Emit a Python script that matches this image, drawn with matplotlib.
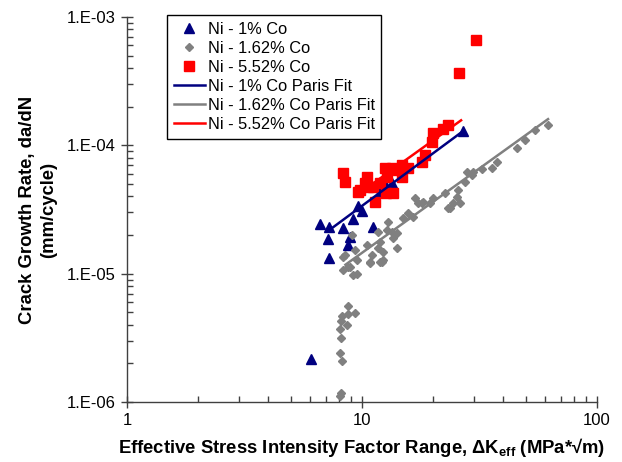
import matplotlib
matplotlib.use("Agg")
import matplotlib.pyplot as plt
import matplotlib.ticker as mticker
import numpy as np

plt.rcParams['font.family'] = ['Liberation Sans', 'DejaVu Sans']
plt.rcParams['mathtext.fontset'] = 'custom'
plt.rcParams['mathtext.rm'] = 'Liberation Sans'
plt.rcParams['mathtext.bf'] = 'Liberation Sans:bold'

# ---- data ----
co1_dk = [6.07, 6.63, 7.24, 7.17, 7.24, 8.30, 9.16, 9.62, 10.0, 11.14, 8.89, 8.72,
          11.93, 12.53, 13.42, 26.9]
co1_rate = [2.16e-6, 2.44e-5, 2.31e-5, 1.86e-5, 1.32e-5, 2.27e-5, 2.67e-5, 3.37e-5,
            3.07e-5, 2.31e-5, 1.93e-5, 1.67e-5, 4.33e-5, 5.0e-5, 5.09e-5, 1.29e-4]

co162_dk = [8.72, 9.34, 8.72, 8.22, 8.14, 8.64, 8.06, 8.14, 8.06, 8.22, 8.06, 8.14,
            9.07, 8.47, 8.30, 8.72, 9.34, 9.52, 9.16, 10.5, 10.81, 11.03, 11.93, 11.70,
            12.29, 11.70, 12.90, 13.42, 14.09, 13.55, 14.95, 15.70, 16.81, 17.31, 18.18,
            20.05, 22.56, 23.68, 24.39, 25.62, 27.44, 12.78, 14.09, 16.48, 18.0, 19.47,
            23.23, 25.37, 26.12, 29.38, 8.30, 8.89, 9.52, 10.81, 12.17, 12.29, 11.93,
            27.99, 29.68, 32.4, 35.7, 37.5, 45.7, 49.4, 54.5, 61.9]
co162_rate = [5.6e-6, 4.93e-6, 4.85e-6, 4.68e-6, 4.28e-6, 3.98e-6, 3.7e-6, 3.15e-6,
              2.41e-6, 2.09e-6, 1.12e-6, 1.17e-6,
              2.0e-5, 1.40e-5, 1.07e-5, 1.13e-5, 1.53e-5, 1.28e-5, 9.8e-6, 1.67e-5,
              1.23e-5, 1.40e-5, 1.23e-5, 1.58e-5, 1.28e-5, 2.11e-5, 2.53e-5, 2.11e-5,
              1.58e-5, 1.89e-5, 2.72e-5, 2.97e-5, 3.89e-5, 3.55e-5, 3.62e-5, 3.89e-5,
              4.25e-5, 3.25e-5, 3.55e-5, 4.48e-5, 5.18e-5, 2.19e-5, 2.07e-5, 2.76e-5,
              3.55e-5, 3.55e-5, 3.25e-5, 3.96e-5, 3.55e-5, 5.87e-5, 1.35e-5, 1.13e-5,
              1.0e-5, 1.21e-5, 1.23e-5, 1.47e-5, 1.76e-5,
              6.2e-5, 6.2e-5, 6.5e-5, 6.66e-5, 7.4e-5, 9.5e-5, 1.10e-4, 1.32e-4, 1.44e-4]

co552_dk = [30.55, 25.87, 23.23, 22.12, 20.05, 19.86, 18.54, 18.0, 15.70, 14.80, 14.23,
            14.80, 13.42, 12.53, 12.78, 13.55, 12.65, 11.36, 11.93, 10.5, 10.3, 10.6,
            9.8, 8.30, 8.47, 11.14, 9.6]
co552_rate = [6.62e-4, 3.66e-4, 1.44e-4, 1.34e-4, 1.25e-4, 1.06e-4, 8.4e-5, 7.4e-5,
              6.66e-5, 7.0e-5, 6.4e-5, 5.67e-5, 6.66e-5, 6.66e-5, 5.67e-5, 4.25e-5,
              4.25e-5, 3.62e-5, 5.09e-5, 5.67e-5, 5.09e-5, 4.73e-5, 4.48e-5, 6.08e-5,
              5.18e-5, 4.73e-5, 4.33e-5]

# Paris fits: da/dN = C * dK^m, over the range [dk_min, dk_max]
fit_co1 = dict(C=1.49e-6, m=1.355, dk=(7.2, 26.9))
fit_co162 = dict(C=7.02e-7, m=1.316, dk=(8.5, 61.9))
fit_co552 = dict(C=2.13e-6, m=1.313, dk=(9.8, 26.4))

labels = ["Ni - 1% Co", "Ni - 1.62% Co", "Ni - 5.52% Co",
          "Ni - 1% Co Paris Fit", "Ni - 1.62% Co Paris Fit", "Ni - 5.52% Co Paris Fit"]

navy = '#000080'
gray = '#808080'
red = '#FF0000'

fig = plt.figure(figsize=(6.22, 4.62), dpi=100)
ax = fig.add_axes([0.2042, 0.1299, 0.7556, 0.8333])

ax.plot(co1_dk, co1_rate, linestyle='none', marker='^', ms=7.5, color=navy,
        mec=navy, label=labels[0])
ax.plot(co162_dk, co162_rate, linestyle='none', marker='D', ms=3.8, color=gray,
        mec=gray, label=labels[1])
ax.plot(co552_dk, co552_rate, linestyle='none', marker='s', ms=6.8, color=red,
        mec=red, label=labels[2])

for fit, col, lab in [(fit_co1, navy, labels[3]), (fit_co162, gray, labels[4]),
                      (fit_co552, red, labels[5])]:
    xs = np.geomspace(fit['dk'][0], fit['dk'][1], 50)
    ax.plot(xs, fit['C'] * xs ** fit['m'], color=col, lw=1.8, label=lab)

ax.set_xscale('log')
ax.set_yscale('log')
ax.set_xlim(1, 100)
ax.set_ylim(1e-6, 1e-3)

for s in ['top', 'right']:
    ax.spines[s].set_visible(False)
for s in ['left', 'bottom']:
    ax.spines[s].set_linewidth(1.0)
    ax.spines[s].set_color('#404040')

ax.xaxis.set_major_locator(mticker.FixedLocator([1, 10, 100]))
ax.xaxis.set_major_formatter(mticker.FuncFormatter(lambda v, p: f"{v:g}"))
ax.xaxis.set_minor_locator(mticker.LogLocator(base=10, subs=np.arange(2, 10)))
ax.xaxis.set_minor_formatter(mticker.NullFormatter())
ax.yaxis.set_major_locator(mticker.FixedLocator([1e-6, 1e-5, 1e-4, 1e-3]))
ax.yaxis.set_major_formatter(mticker.FuncFormatter(
    lambda v, p: "1.E-%02d" % int(round(-np.log10(v)))))
ax.yaxis.set_minor_locator(mticker.LogLocator(base=10, subs=np.arange(2, 10)))
ax.yaxis.set_minor_formatter(mticker.NullFormatter())

ax.tick_params(which='major', direction='inout', length=8, width=1, labelsize=12,
               color='#404040', pad=4)
ax.tick_params(which='minor', direction='in', length=4, width=1, color='#404040')

ax.set_xlabel("Effective Stress Intensity Factor Range, \u0394K$_{\\mathbf{eff}}$ (MPa*\u221am)",
              fontsize=13.3, fontweight='bold', labelpad=6)
ax.set_ylabel("Crack Growth Rate, da/dN\n(mm/cycle)", fontsize=13.3,
              fontweight='bold', labelpad=7, linespacing=1.35)

leg = ax.legend(loc='upper left', bbox_to_anchor=(0.085, 1.005), fontsize=11.8,
                frameon=True, fancybox=False, edgecolor='black', framealpha=1,
                handlelength=1.95, handletextpad=0.15, borderpad=0.4,
                labelspacing=0.25, borderaxespad=0)
leg.get_frame().set_linewidth(1.0)

fig.savefig("out.png", dpi=100)
